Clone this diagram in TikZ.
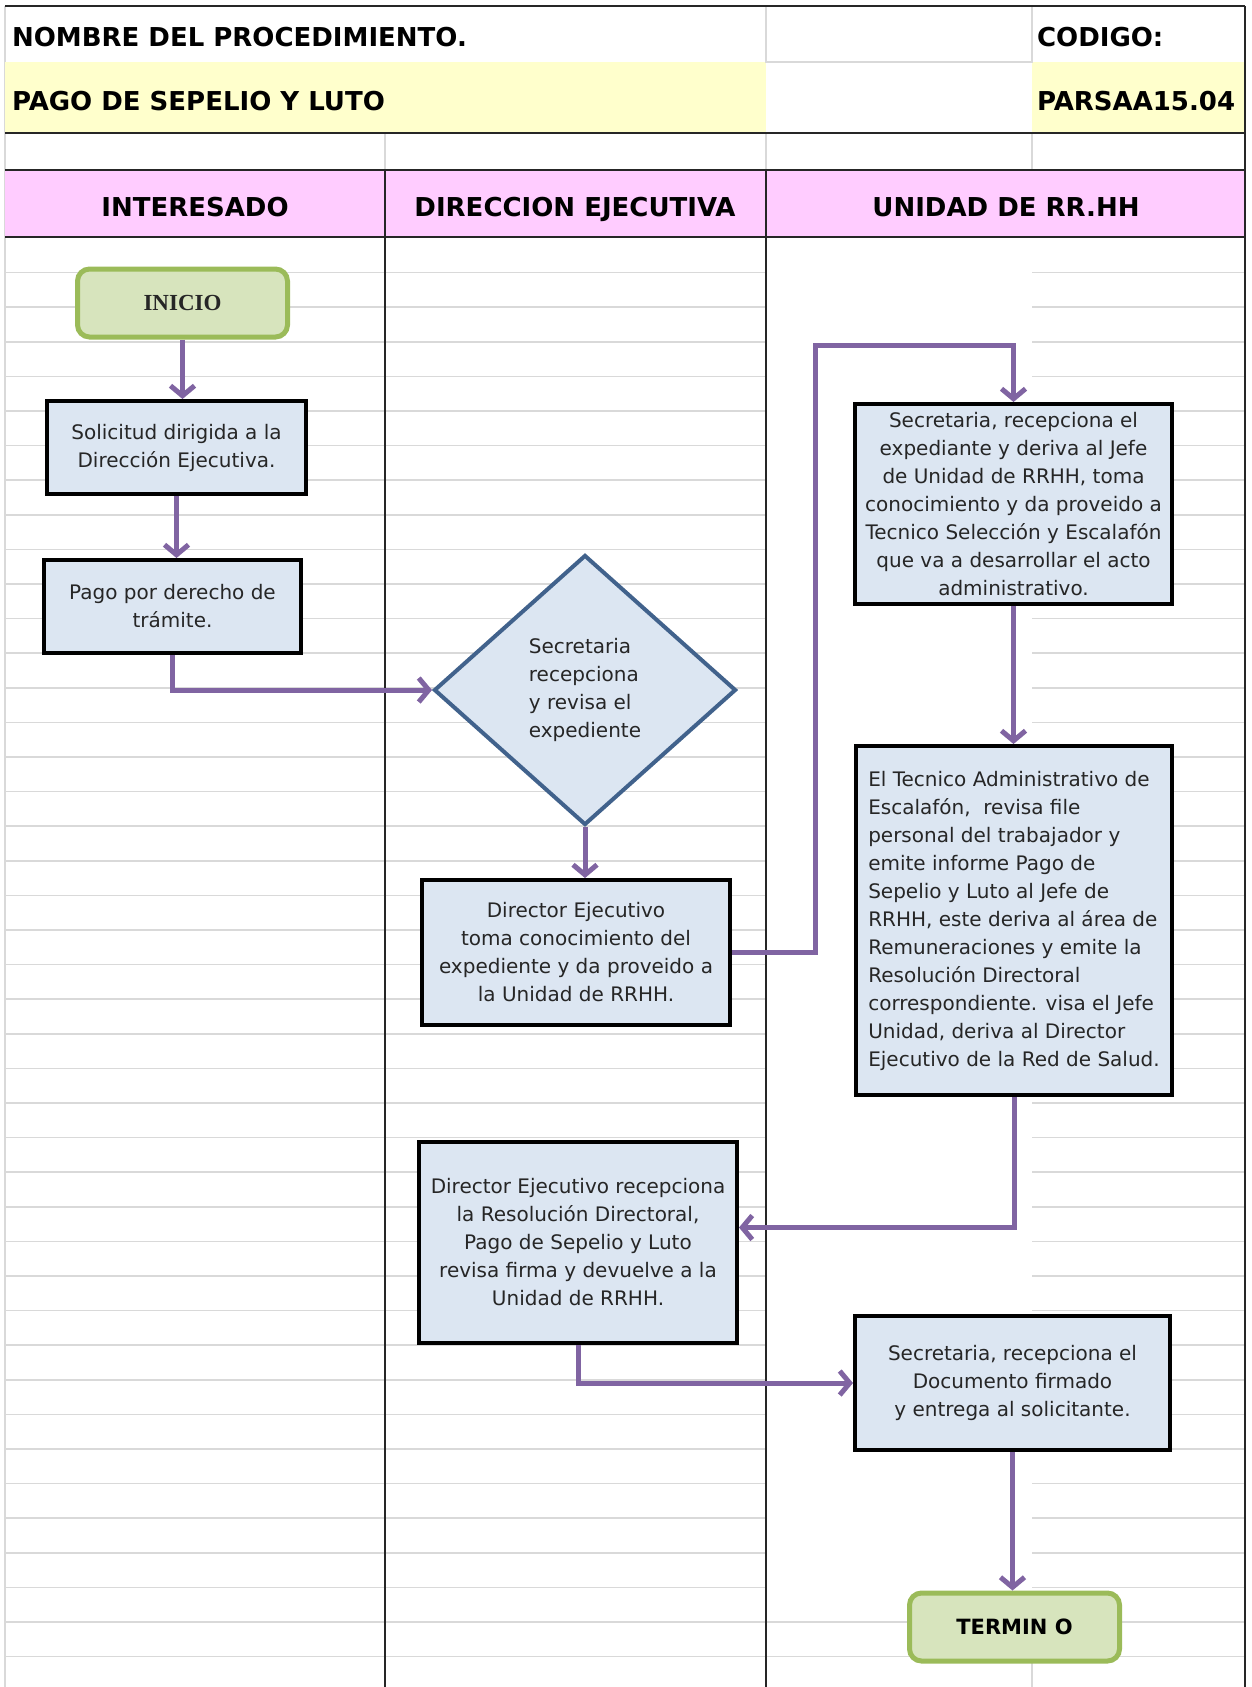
\documentclass[tikz,border=0pt]{standalone}
\usepackage{fontspec}
\setmainfont{DejaVu Sans}
\newfontfamily\startfont{Liberation Serif}
\usepackage{tikz}
\usetikzlibrary{arrows.meta,shapes.geometric}

\definecolor{boxblue}{HTML}{DCE6F2}
\definecolor{flowpurple}{HTML}{8064A2}
\definecolor{startgreen}{HTML}{D7E4BD}
\definecolor{startedge}{HTML}{9BBB59}
\definecolor{headyellow}{HTML}{FFFFCC}
\definecolor{headpink}{HTML}{FFCCFF}
\definecolor{diamedge}{HTML}{41628C}
\definecolor{gridgray}{HTML}{D9D9D9}

\begin{document}
\begin{tikzpicture}[x=0.5pt,y=-0.5pt,
    every node/.style={font=\fontsize{10}{14}\selectfont, text=black!85},
    box/.style={draw=black, line width=2pt, fill=boxblue, inner sep=2pt, align=center},
    decision/.style={diamond, draw=diamedge, line width=2pt, fill=boxblue, inner sep=0pt, align=left},
    terminal/.style={draw=startedge, line width=2.5pt, fill=startgreen, rounded corners=6pt,
      minimum width=105pt, minimum height=34pt},
    headtxt/.style={font=\fontsize{13}{15}\selectfont\bfseries, text=black,
      text height=9.5pt, text depth=3pt},
    grid/.style={draw=gridgray, line width=0.75pt},
    rule/.style={draw=black!85, line width=1.3pt},
    flow/.style={draw=flowpurple, line width=2.5pt, -{Straight Barb[length=5pt,width=12pt]}}]
  \useasboundingbox (0,0) rectangle (1252,1687);

  % spreadsheet grid
  \foreach \k in {1,...,41}
    \draw[grid] (5,{238+34.6*\k}) -- (766,{238+34.6*\k});
  \foreach \k in {1,...,39}
    \draw[grid] (1032,{238+34.6*\k}) -- (1245,{238+34.6*\k});
  \foreach \k in {40,41}
    \draw[grid] (766,{238+34.6*\k}) -- (1245,{238+34.6*\k});
  \draw[grid] (1032,1622) -- (1032,1687);
  \draw[grid] (5,6) -- (5,1687);

  % header
  \fill[headyellow] (5,62) rectangle (766,133);
  \fill[headyellow] (1032,62) rectangle (1245,133);
  \fill[headpink] (5,170) rectangle (1245,237);
  \draw[grid] (766,6) rectangle (1032,62);
  \draw[grid] (385,133) -- (385,170) (766,133) -- (766,170) (1032,133) -- (1032,170);
  \draw[rule] (5,6) -- (1245,6);
  \draw[rule] (5,133) -- (1245,133);
  \draw[rule] (5,170) -- (1245,170);
  \draw[rule] (5,237) -- (1245,237);
  \draw[rule] (1245,6) -- (1245,1687);
  \draw[rule] (385,170) -- (385,1687);
  \draw[rule] (766,170) -- (766,1687);

  \node[headtxt, anchor=west] (nombre) at (5,40) {NOMBRE DEL PROCEDIMIENTO.};
  \node[headtxt, anchor=west] (codigo) at (1030,40) {CODIGO:};
  \node[headtxt, anchor=west] (proc) at (5,104) {PAGO DE SEPELIO Y LUTO};
  \node[headtxt, anchor=west] (cod) at (1030,104) {PARSAA15.04};
  \node[headtxt] (lane1) at (195,210) {INTERESADO};
  \node[headtxt] (lane2) at (575,210) {DIRECCION EJECUTIVA};
  \node[headtxt] (lane3) at (1006,210) {UNIDAD DE RR.HH};

  % flow nodes
  \node[terminal, font=\fontsize{11.5}{13}\startfont\bfseries] (N1) at (182.5,303) {INICIO};
  \node[box, minimum width=129.5pt, minimum height=46.5pt] (N2) at (176.5,447.5)
    {Solicitud dirigida a la\\Dirección Ejecutiva.};
  \node[box, minimum width=128.5pt, minimum height=46.5pt] (N3) at (172.5,606.5)
    {Pago por derecho de\\trámite.};
  \node[decision, minimum width=151pt, minimum height=135pt] (N4) at (585,690)
    {Secretaria\\recepciona\\y revisa el\\expediente};
  \node[box, minimum width=154pt, minimum height=72.5pt] (N5) at (576,952.5)
    {Director Ejecutivo\\toma conocimiento del\\expediente y da proveido a\\la Unidad de RRHH.};
  \node[box, minimum width=158.5pt, minimum height=100pt] (N6) at (1013.5,504)
    {Secretaria, recepciona el\\expediante y deriva al Jefe\\de Unidad de RRHH, toma\\conocimiento y da proveido a\\Tecnico Selección y Escalafón\\que va a desarrollar el acto\\administrativo.};
  \node[box, align=left, minimum width=158pt, minimum height=174.5pt] (N7) at (1014,920.5)
    {El Tecnico Administrativo de\\Escalafón, \ revisa file\\personal del trabajador y\\emite informe Pago de\\Sepelio y Luto al Jefe de\\RRHH, este deriva al área de\\Remuneraciones y emite la\\Resolución Directoral\\correspondiente. visa el Jefe\\Unidad, deriva al Director\\Ejecutivo de la Red de Salud.};
  \node[box, minimum width=159pt, minimum height=100.5pt] (N8) at (578,1242.5)
    {Director Ejecutivo recepciona\\la Resolución Directoral,\\Pago de Sepelio y Luto\\revisa firma y devuelve a la\\Unidad de RRHH.};
  \node[box, minimum width=157.5pt, minimum height=67pt] (N9) at (1012.5,1383)
    {Secretaria, recepciona el\\Documento firmado\\y entrega al solicitante.};
  \node[terminal, font=\fontsize{10.5}{13}\selectfont\bfseries, text=black] (N10) at (1014.5,1627) {TERMIN O};

  \coordinate (c1) at (815,345);

  % connectors
  \draw[flow] (N1.south) -- (N1.south |- N2.north);
  \draw[flow] (N2.south) -- (N2.south |- N3.north);
  \draw[flow] (N3.south) |- (N4.west);
  \draw[flow] (N4.south) -- (N4.south |- N5.north);
  \draw[flow] (N5.east) -| (c1) -| (N6.north);
  \draw[flow] (N6.south) -- (N6.south |- N7.north);
  \draw[flow] (N7.south) |- ([yshift=7.5pt]N8.east);
  \draw[flow] (N8.south) |- (N9.west);
  \draw[flow] (N9.south) -- (N9.south |- N10.north);
\end{tikzpicture}
\end{document}
